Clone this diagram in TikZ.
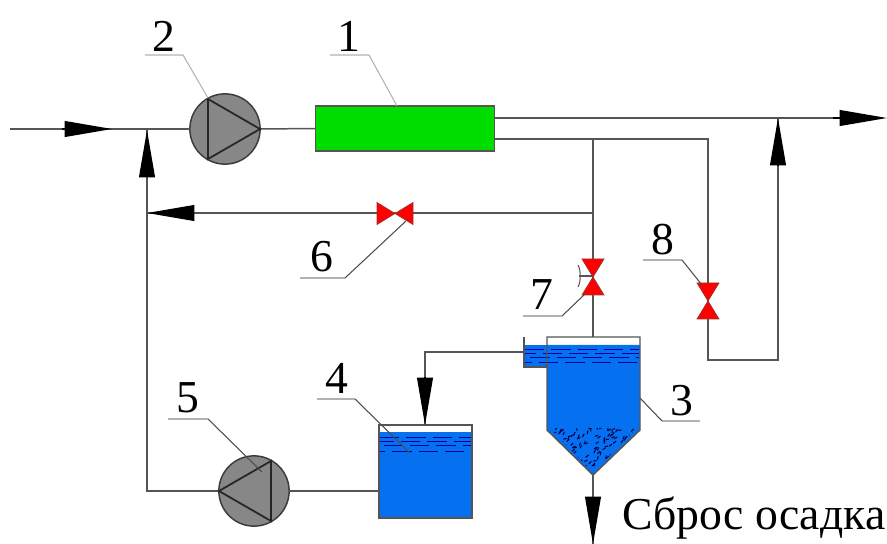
\documentclass[tikz,border=0pt]{standalone}
\usepackage{fontspec}
\setmainfont{Liberation Serif}
\usetikzlibrary{calc,arrows.meta}

\definecolor{waterblue}{RGB}{5,112,240}
\definecolor{filtergreen}{RGB}{0,221,0}
\definecolor{pumpgray}{RGB}{135,135,135}
\definecolor{pipegray}{RGB}{85,85,85}

\tikzset{
    pipe/.style={draw=pipegray, line width=0.85pt},
    leader/.style={draw=gray!60, line width=0.6pt},
    leaderdark/.style={draw=black!70, line width=0.6pt},
    flowarrow/.style={black, line width=0.85pt, -{Triangle[length=27pt,width=9pt]}},
    pumpnode/.style={circle, draw=pipegray!70!black, line width=0.85pt, fill=pumpgray, minimum size=40pt, inner sep=0pt, outer sep=0pt},
    tanknode/.style={rectangle, draw=pipegray, line width=0.85pt, inner sep=0pt, outer sep=0pt},
    numlabel/.style={font=\fontsize{26}{26}\selectfont, inner sep=0pt},
    waterline/.style={draw=blue!60!black, line width=0.45pt, dash pattern=on 11pt off 4pt},
    pics/valve/.style={code={
        \filldraw[fill=red, draw=pipegray!60!red, line width=0.4pt] (0,0) -- (-11,-18) -- (11,-18) -- cycle;
        \filldraw[fill=red, draw=pipegray!60!red, line width=0.4pt] (0,0) -- (-11,18) -- (11,18) -- cycle;
    }},
    pics/pumptri/.style={code={
        \draw[draw=black!85, line width=1pt] (-17,-30) -- (-17,30) -- (35,0) -- cycle;
    }},
}

\begin{document}
\begin{tikzpicture}[x=0.02cm, y=-0.02cm]

    \useasboundingbox (0,0) rectangle (887,544);

    % junctions
    \coordinate (inlet) at (10,129);
    \coordinate (mix) at (147,129);
    \coordinate (outlet) at (860,118);
    \coordinate (topout) at (495,118);
    \coordinate (lowout) at (495,139);
    \coordinate (teeone) at (593,139);
    \coordinate (teetwo) at (593,213);
    \coordinate (retleft) at (147,213);
    \coordinate (bypasstop) at (708,139);
    \coordinate (bypasslow) at (708,360);
    \coordinate (bypassup) at (778,360);
    \coordinate (bypassend) at (778,118);
    \coordinate (cornerleft) at (147,491);
    \coordinate (tankfourin) at (379,491);
    \coordinate (overflow) at (524,352);
    \coordinate (overturn) at (425,352);
    \coordinate (tankfourtop) at (425,425);
    \coordinate (coneend) at (593,475);
    \coordinate (sludge) at (593,544);
    \coordinate (tankthreetop) at (593,337);

    % equipment
    \node[rectangle, draw=pipegray, line width=0.85pt, fill=filtergreen, minimum width=102pt, minimum height=25.5pt, inner sep=0pt, outer sep=0pt] (filter) at (405,128.5) {};
    \node[pumpnode] (pumptwo) at (225,129) {};
    \node[pumpnode] (pumpfive) at (254,491) {};

    % pipes
    \draw[pipe] (inlet) -- (pumptwo.west);
    \draw[pipe] (pumptwo.east) -- (filter.west);
    \draw[pipe] (topout) -- (outlet);
    \draw[pipe] (lowout) -- (bypasstop) -- (bypasslow) -- (bypassup) -- (bypassend);
    \draw[pipe] (teeone) -- (tankthreetop);
    \draw[pipe] (teetwo) -- (retleft);
    \draw[pipe] (mix) -- (cornerleft) -- (pumpfive.west);
    \draw[pipe] (pumpfive.east) -- (tankfourin);
    \draw[pipe] (overflow) -- (overturn) -- (tankfourtop);
    \draw[pipe] (coneend) -- (sludge);

    % pumps
    \pic at (pumptwo) {pumptri};
    \pic[rotate=180] at (pumpfive) {pumptri};

    % tank 4
    \fill[waterblue] (379,432) rectangle (472,518);
    \foreach \y/\s in {437/0,441/3,445/-2,451/8}
        \draw[waterline, dash phase=\s pt] (380,\y) -- (471,\y);
    \draw[pipe] (379,425) rectangle (472,518);

    % tank 3 with side box
    \fill[waterblue] (524,345) rectangle (547,367);
    \fill[waterblue] (547,345) -- (640,345) -- (640,430) -- (593,475) -- (547,430) -- cycle;
    \foreach \y/\s in {349/0,353/5,357/-3,362/7}
        \draw[waterline, dash phase=\s pt] (525,\y) -- (639,\y);
    \draw[pipe] (547,337) -- (640,337) -- (640,430) -- (593,475) -- (547,430) -- cycle;
    \draw[pipe] (524,337) -- (524,367) -- (547,367);

    % sludge
    \pgfmathsetseed{17}
    \begin{scope}
        \clip (550,428) -- (637,428) -- (593,473) -- cycle;
        \foreach \i in {1,...,150} {
            \pgfmathsetmacro{\px}{551+rnd*84}
            \pgfmathsetmacro{\py}{428+rnd*42}
            \pgfmathsetmacro{\pa}{rnd*90}
            \draw[blue!30!black, line width=0.6pt, rotate around={\pa:(\px,\py)}] (\px,\py) -- ++(3.5,0);
        }
    \end{scope}

    % valves
    \pic[rotate=90] at (395,213.5) {valve};
    \pic at (593,277) {valve};
    \pic at (708,301) {valve};
    \draw[draw=pipegray, line width=0.6pt] (593,276) -- (579,276);
    \draw[draw=pipegray, line width=0.6pt] (578,265) .. controls (581,270) and (581,282) .. (578,287);

    % arrows
    \draw[flowarrow] (62,129) -- (112,129);
    \draw[flowarrow] (833,118) -- (887,118);
    \draw[flowarrow] (147,167) -- (147,130);
    \draw[flowarrow] (193,213) -- (147,213);
    \draw[flowarrow] (778,166) -- (778,118);
    \draw[flowarrow] (425,377) -- (tankfourtop);
    \draw[flowarrow] (593,503) -- (sludge);

    % numbers
    \node[numlabel] (numone) at (349,36) {1};
    \node[numlabel] (numtwo) at (164,36) {2};
    \node[numlabel] (numthree) at (682,401) {3};
    \node[numlabel] (numfour) at (337,378) {4};
    \node[numlabel] (numfive) at (188,398) {5};
    \node[numlabel] (numsix) at (322,257) {6};
    \node[numlabel] (numseven) at (542,295) {7};
    \node[numlabel] (numeight) at (663,240) {8};

    % leaders
    \draw[leader] (330,55) -- (369,55) -- (397,106);
    \draw[leader] (145,55) -- (183,55) -- (208,98);
    \draw[leader] (700,421) -- (662,421);
    \draw[leaderdark] (662,421) -- (640,398);
    \draw[leader] (317,399) -- (355,399);
    \draw[leaderdark] (355,399) -- (410,453);
    \draw[leader] (168,419) -- (208,419);
    \draw[leaderdark] (208,419) -- (262,472);
    \draw[leader] (300,278) -- (345,278);
    \draw[leaderdark] (345,278) -- (406,221);
    \draw[leader] (523,316) -- (562,316);
    \draw[leaderdark] (562,316) -- (585,294);
    \draw[leader] (643,260) -- (682,260);
    \draw[leaderdark] (682,260) -- (702,285);

    \node[anchor=west, inner sep=0pt, font=\fontsize{26}{26}\selectfont] (sbros) at (622,518) {Сброс осадка};

\end{tikzpicture}
\end{document}
